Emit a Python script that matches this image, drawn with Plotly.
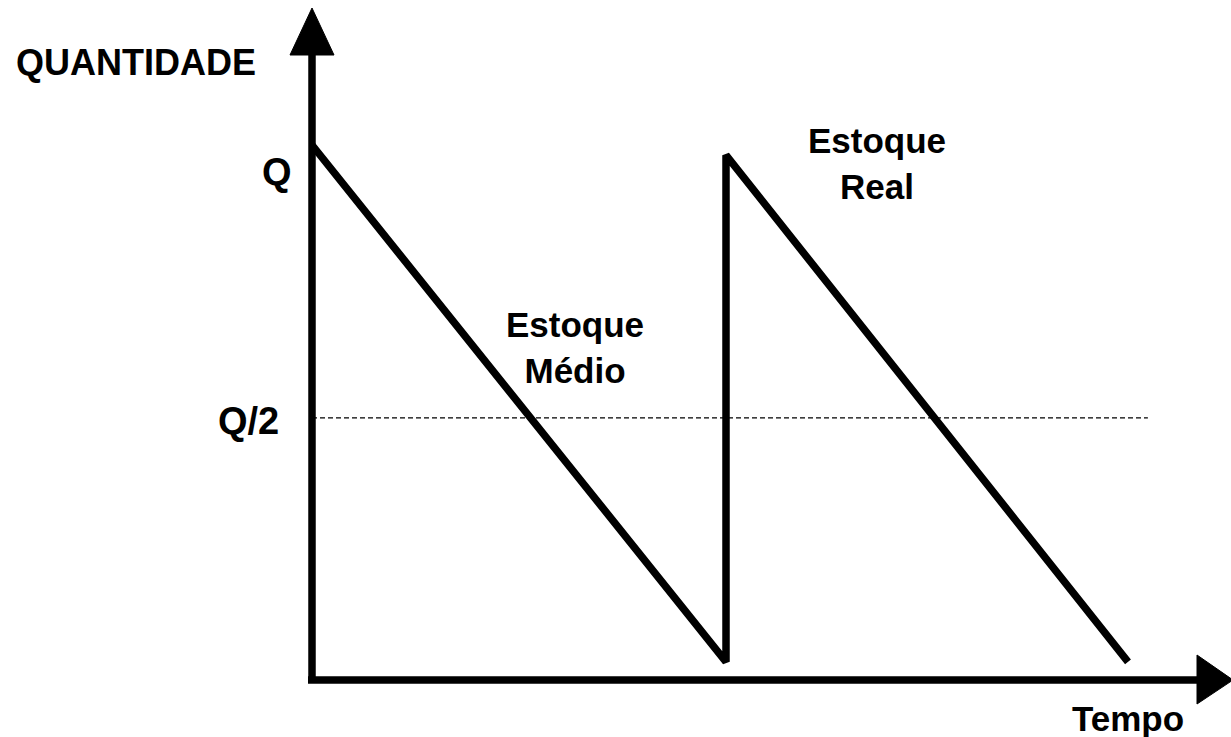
import plotly.graph_objects as go

# sawtooth stock level (time in cycles, quantity as fraction of Q)
tempo = [0.0, 1.0, 1.0, 1.971]
estoque = [1.0, 0.034, 0.981, 0.034]

# average stock line Q/2
medio_t = [0.0, 2.019]
medio_q = [0.49, 0.49]

W, H = 1231, 737
X0, XS = 312, 414      # pixel of t=0, pixels per cycle
Y0, YS = 680, 535      # pixel of q=0, pixels per Q


def px_t(p):
    return (p - X0) / XS


def px_q(p):
    return (Y0 - p) / YS


FONT = "Liberation Sans, Arial, sans-serif"

fig = go.Figure()

fig.add_trace(go.Scatter(x=medio_t, y=medio_q, mode="lines",
                         line=dict(color="black", width=1.3, dash="5px,3px"),
                         hoverinfo="skip"))
fig.add_trace(go.Scatter(x=tempo, y=estoque, mode="lines",
                         line=dict(color="black", width=7.5),
                         hoverinfo="skip"))

# axes with arrow heads
fig.add_shape(type="line", x0=0, y0=0, x1=0, y1=px_q(50),
              line=dict(color="black", width=7.5))
fig.add_shape(type="line", x0=px_t(308), y0=0, x1=px_t(1200), y1=0,
              line=dict(color="black", width=7.5))
fig.add_shape(type="path", fillcolor="black", line=dict(color="black", width=1),
              path=f"M {px_t(290)},{px_q(55)} L {px_t(334)},{px_q(55)} L 0,{px_q(8)} Z")
fig.add_shape(type="path", fillcolor="black", line=dict(color="black", width=1),
              path=f"M {px_t(1197)},{px_q(655)} L {px_t(1197)},{px_q(704)} L {px_t(1233)},0 Z")


def label(text, x, y, size=36):
    fig.add_annotation(text=text, x=x / W, y=1 - y / H, xref="paper", yref="paper",
                       showarrow=False, xanchor="center", yanchor="middle",
                       font=dict(family=FONT, size=size, color="black"))


label("<b>QUANTIDADE</b>", 136, 62, 36)
label("<b>Q</b>", 277, 172, 38)
label("<b>Q/2</b>", 248, 421, 38)
label("<b>Estoque<br>Médio</b>", 575, 347, 35)
label("<b>Estoque<br>Real</b>", 877, 163, 35)
label("<b>Tempo</b>", 1128, 718, 35)

fig.update_layout(
    width=W, height=H,
    margin=dict(l=0, r=0, t=0, b=0),
    paper_bgcolor="white", plot_bgcolor="white",
    showlegend=False,
    xaxis=dict(range=[px_t(0), px_t(W)], visible=False, fixedrange=True),
    yaxis=dict(range=[px_q(H), px_q(0)], visible=False, fixedrange=True),
)

fig.write_html("out.html", config={"displayModeBar": False},
               post_script="document.body.style.margin='0';"
                           "document.body.style.overflow='hidden';")
